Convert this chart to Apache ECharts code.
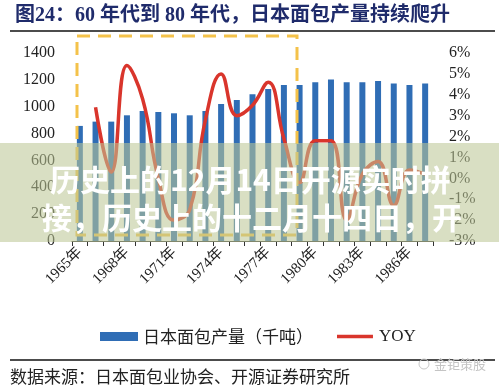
<!DOCTYPE html>
<html>
<head>
<meta charset="utf-8">
<script src="https://cdn.jsdelivr.net/npm/echarts@6/dist/echarts.min.js"></script>
<style>
html,body{margin:0;padding:0;background:#fff;}
#c{width:499px;height:387px;}
</style>
</head>
<body>
<div id="c"></div>
<script>
var years = ['1965年','1966年','1967年','1968年','1969年','1970年','1971年','1972年','1973年','1974年','1975年','1976年','1977年','1978年','1979年','1980年','1981年','1982年','1983年','1984年','1985年','1986年','1987年'];
var production = [857, 889, 889, 936, 968, 961, 951, 936, 968, 1020, 1050, 1093, 1132, 1162, 1162, 1182, 1202, 1182, 1182, 1192, 1172, 1162, 1172];
var yoy = [null, 3.4, 0.3, 5.4, 3.8, 0.0, -2.0, -1.5, 2.8, 5.0, 3.0, 3.5, 4.6, 1.9, -0.2, 1.8, 1.8, -2.0, 0.2, 0.8, -1.3, 0.4, 0.2];
var leftTicks = {min: 0, max: 1400, interval: 200};
var rightTicks = {min: -3, max: 6, interval: 1};
var seriesNames = ['日本面包产量（千吨）', 'YOY'];
var titleText = '图24：60 年代到 80 年代，日本面包产量持续爬升';
var sourceText = '数据来源：日本面包业协会、开源证券研究所';
var bannerLines = ['历史上的12月14日开源实时拼', '接，历史上的十二月十四日，开'];

var serif = "'Liberation Serif','Times New Roman','Noto Sans CJK SC',serif";
var cjk = "'Noto Sans CJK SC','Liberation Serif',sans-serif";

var chart = echarts.init(document.getElementById('c'), null, {renderer: 'canvas'});
chart.setOption({
  animation: false,
  backgroundColor: '#fff',
  title: {
    text: titleText,
    left: 10, top: 1,
    textStyle: {fontFamily: serif, fontWeight: 'bold', fontSize: 20, color: '#1f2b6b'}
  },
  grid: {left: 72, right: 66, top: 53, bottom: 146, containLabel: false},
  legend: {
    left: 95, top: 323,
    itemGap: 24, itemWidth: 38, itemHeight: 9,
    textStyle: {fontFamily: cjk, fontSize: 17, color: '#222'},
    data: [
      {name: seriesNames[0], icon: 'rect'},
      {name: seriesNames[1], icon: 'path://M0,0L0.01,0L0.01,0.01ZM0,3L40,3L40,7L0,7ZM0,10L0.01,10L0.01,10.01Z', textStyle: {fontFamily: serif, fontSize: 17}}
    ]
  },
  xAxis: {
    type: 'category',
    data: years,
    boundaryGap: true,
    axisLine: {lineStyle: {color: '#333', width: 1}},
    axisTick: {show: true, interval: 0, length: 5, lineStyle: {color: '#333'}},
    axisLabel: {interval: 2, rotate: 45, margin: 9, fontFamily: serif, fontSize: 15, color: '#222'},
    splitLine: {show: false}
  },
  yAxis: [
    {
      type: 'value', min: leftTicks.min, max: leftTicks.max, interval: leftTicks.interval,
      axisLine: {show: false}, axisTick: {show: false}, splitLine: {show: false},
      axisLabel: {margin: 17, fontFamily: serif, fontSize: 16, color: '#222', formatter: function (v) { return String(v); }}
    },
    {
      type: 'value', min: rightTicks.min, max: rightTicks.max, interval: rightTicks.interval,
      axisLine: {show: false}, axisTick: {show: false}, splitLine: {show: false},
      axisLabel: {margin: 16, fontFamily: serif, fontSize: 16, color: '#222', formatter: '{value}%'}
    }
  ],
  series: [
    {
      name: seriesNames[0], type: 'bar', yAxisIndex: 0,
      data: production, barWidth: 6,
      itemStyle: {color: '#2f6db5'}
    },
    {
      name: seriesNames[1], type: 'line', yAxisIndex: 1,
      data: yoy, smooth: 0.45, symbol: 'none', showSymbol: false, connectNulls: false,
      lineStyle: {color: '#d9352c', width: 3.5},
      itemStyle: {color: '#d9352c'}
    }
  ],
  graphic: [
    {type: 'line', z: 10, shape: {x1: 10, y1: 31, x2: 495, y2: 31}, style: {stroke: '#111', lineWidth: 1.5}},
    {type: 'rect', z: 50, shape: {x: 77, y: 36, width: 220, height: 199}, style: {fill: 'none', stroke: '#f4c24a', lineWidth: 3, lineDash: [13, 8]}},
    {type: 'rect', z: 100, shape: {x: 0, y: 143, width: 499, height: 99}, style: {fill: 'rgba(188,199,150,0.57)'}},
    {type: 'text', z: 110, x: 50, y: 180, style: {text: bannerLines[0], fill: '#fff', font: "bold 30px 'Noto Sans CJK SC'", textAlign: 'left', textVerticalAlign: 'middle', shadowBlur: 4, shadowColor: 'rgba(0,0,0,0.25)'}},
    {type: 'text', z: 110, x: 42, y: 218, style: {text: bannerLines[1], fill: '#fff', font: "bold 30px 'Noto Sans CJK SC'", textAlign: 'left', textVerticalAlign: 'middle', shadowBlur: 4, shadowColor: 'rgba(0,0,0,0.25)'}},
    {type: 'line', z: 10, shape: {x1: 10, y1: 360, x2: 495, y2: 360}, style: {stroke: '#111', lineWidth: 1.5}},
    {type: 'text', z: 10, x: 10, y: 377, style: {text: sourceText, fill: '#222', font: "17px 'Noto Sans CJK SC'", textAlign: 'left', textVerticalAlign: 'middle'}},
    {type: 'text', z: 10, x: 434, y: 364, style: {text: '金钜策股', fill: '#c4c4c4', font: "13px 'Noto Sans CJK SC'", textAlign: 'left', textVerticalAlign: 'middle'}},
    {type: 'circle', z: 10, shape: {cx: 424, cy: 364, r: 5}, style: {fill: 'none', stroke: '#c8c8c8', lineWidth: 1}}
  ]
});
</script>
</body>
</html>
